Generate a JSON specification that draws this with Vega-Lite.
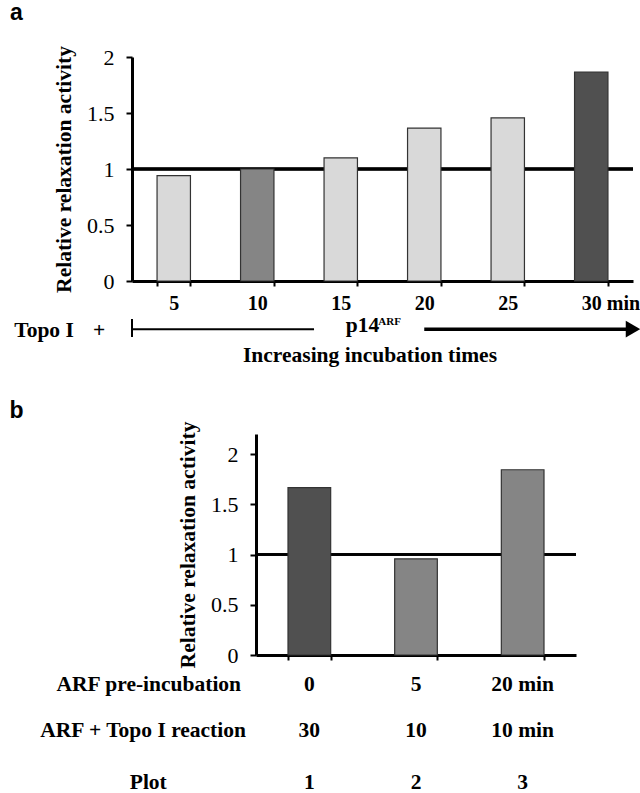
{
  "$schema": "https://vega.github.io/schema/vega-lite/v6.json",
  "padding": {"left": 9, "top": 2, "right": 0, "bottom": 0},
  "spacing": 153,
  "bounds": "flush",
  "config": {
    "font": "Liberation Serif",
    "view": {"stroke": null},
    "axis": {"domainColor": "black", "tickColor": "black", "labelColor": "black", "titleColor": "black", "grid": false, "domainWidth": 3, "tickWidth": 2}
  },
  "vconcat": [
    {
      "width": 501,
      "height": 224,
      "data": {"values": [
        {"time": "5", "activity": 0.94, "highlight": "none"},
        {"time": "10", "activity": 1.0, "highlight": "10 min"},
        {"time": "15", "activity": 1.10, "highlight": "none"},
        {"time": "20", "activity": 1.365, "highlight": "none"},
        {"time": "25", "activity": 1.457, "highlight": "none"},
        {"time": "30 min", "activity": 1.866, "highlight": "30 min"}
      ]},
      "layer": [
        {
          "layer": [
            {"mark": {"type": "rule", "color": "black", "strokeWidth": 2.5},
             "encoding": {"y": {"datum": 1, "type": "quantitative", "scale": {"domain": [0, 2], "nice": false}}}},
            {"mark": {"type": "bar", "stroke": "#333333", "strokeWidth": 1.2},
             "encoding": {
               "x": {"field": "time", "type": "nominal", "sort": null,
                     "scale": {"paddingInner": 0.6, "paddingOuter": 0.3},
                     "axis": {"title": null, "labelAngle": 0, "labelFontWeight": "bold", "labelFontSize": 20, "tickBand": "extent", "tickSize": 5, "labelPadding": 7,
                              "labelAlign": {"condition": {"test": "datum.label === '30 min'", "value": "left"}, "value": "center"},
                              "labelOffset": {"condition": {"test": "datum.label === '30 min'", "value": -10}, "value": 0}}},
               "y": {"field": "activity", "type": "quantitative", "scale": {"domain": [0, 2], "nice": false},
                     "axis": {"values": [0, 0.5, 1, 1.5, 2], "format": "~g", "title": "Relative relaxation activity", "titleFontSize": 21.5, "titleFontWeight": "bold", "titlePadding": 11, "labelFontSize": 22, "labelPadding": 12, "tickSize": 6}},
               "color": {"field": "highlight", "type": "nominal", "scale": {"domain": ["none", "10 min", "30 min"], "range": ["#d9d9d9", "#858585", "#505050"]}, "legend": null}
             }}
          ]
        },
        {
          "data": {"values": [{}]},
          "layer": [
            {"mark": {"type": "text", "font": "Liberation Sans", "fontWeight": "bold", "fontSize": 23, "align": "left", "baseline": "alphabetic"},
             "encoding": {"x": {"datum": -1.46, "type": "quantitative", "scale": {"domain": [0, 6], "nice": false}, "axis": null},
                          "y": {"datum": 2.33, "type": "quantitative", "scale": {"domain": [0, 2], "nice": false}},
                          "text": {"value": "a"}}},
            {"mark": {"type": "text", "fontWeight": "bold", "fontSize": 21.5, "align": "left", "baseline": "alphabetic"},
             "encoding": {"x": {"datum": -1.41, "type": "quantitative", "scale": {"domain": [0, 6], "nice": false}, "axis": null},
                          "y": {"datum": -0.5, "type": "quantitative", "scale": {"domain": [0, 2], "nice": false}},
                          "text": {"value": "Topo I"}}},
            {"mark": {"type": "text", "fontWeight": "bold", "fontSize": 21.5, "align": "left", "baseline": "alphabetic"},
             "encoding": {"x": {"datum": -0.467, "type": "quantitative", "scale": {"domain": [0, 6], "nice": false}, "axis": null},
                          "y": {"datum": -0.5, "type": "quantitative", "scale": {"domain": [0, 2], "nice": false}},
                          "text": {"value": "+"}}},
            {"mark": {"type": "rule", "color": "black", "strokeWidth": 2},
             "encoding": {"x": {"datum": 0, "type": "quantitative", "scale": {"domain": [0, 6], "nice": false}, "axis": null},
                          "y": {"datum": -0.34, "type": "quantitative", "scale": {"domain": [0, 2], "nice": false}},
                          "y2": {"datum": -0.5}}},
            {"mark": {"type": "rule", "color": "black", "strokeWidth": 2},
             "encoding": {"x": {"datum": 0, "type": "quantitative", "scale": {"domain": [0, 6], "nice": false}, "axis": null},
                          "x2": {"datum": 2.18},
                          "y": {"datum": -0.43, "type": "quantitative", "scale": {"domain": [0, 2], "nice": false}}}},
            {"mark": {"type": "text", "fontWeight": "bold", "fontSize": 21.5, "align": "left", "baseline": "alphabetic"},
             "encoding": {"x": {"datum": 2.56, "type": "quantitative", "scale": {"domain": [0, 6], "nice": false}, "axis": null},
                          "y": {"datum": -0.455, "type": "quantitative", "scale": {"domain": [0, 2], "nice": false}},
                          "text": {"value": "p14"}}},
            {"mark": {"type": "text", "fontWeight": "bold", "fontSize": 11, "align": "left", "baseline": "alphabetic"},
             "encoding": {"x": {"datum": 2.95, "type": "quantitative", "scale": {"domain": [0, 6], "nice": false}, "axis": null},
                          "y": {"datum": -0.393, "type": "quantitative", "scale": {"domain": [0, 2], "nice": false}},
                          "text": {"value": "ARF"}}},
            {"mark": {"type": "rule", "color": "black", "strokeWidth": 3.5},
             "encoding": {"x": {"datum": 3.5, "type": "quantitative", "scale": {"domain": [0, 6], "nice": false}, "axis": null},
                          "x2": {"datum": 5.93},
                          "y": {"datum": -0.43, "type": "quantitative", "scale": {"domain": [0, 2], "nice": false}}}},
            {"mark": {"type": "point", "shape": "triangle-right", "filled": true, "color": "black", "opacity": 1, "size": 280},
             "encoding": {"x": {"datum": 6.0, "type": "quantitative", "scale": {"domain": [0, 6], "nice": false}, "axis": null},
                          "y": {"datum": -0.43, "type": "quantitative", "scale": {"domain": [0, 2], "nice": false}}}},
            {"mark": {"type": "text", "fontWeight": "bold", "fontSize": 21.5, "align": "center", "baseline": "alphabetic"},
             "encoding": {"x": {"datum": 2.85, "type": "quantitative", "scale": {"domain": [0, 6], "nice": false}, "axis": null},
                          "y": {"datum": -0.723, "type": "quantitative", "scale": {"domain": [0, 2], "nice": false}},
                          "text": {"value": "Increasing incubation times"}}}
          ]
        }
      ],
      "resolve": {"scale": {"x": "independent"}}
    },
    {
      "bounds": "flush",
      "spacing": 0,
      "hconcat": [
        {
          "width": 124,
          "height": 10,
          "data": {"values": [{}]},
          "mark": {"type": "text"},
          "encoding": {"text": {"value": ""}}
        },
        {
          "width": 320,
          "height": 221,
          "data": {"values": [
            {"pre": "0", "reaction": "30", "plot": "1", "activity": 1.667, "highlight": "30 min"},
            {"pre": "5", "reaction": "10", "plot": "2", "activity": 0.957, "highlight": "10 min"},
            {"pre": "20 min", "reaction": "10 min", "plot": "3", "activity": 1.844, "highlight": "10 min"}
          ]},
          "layer": [
            {
              "layer": [
                {"mark": {"type": "rule", "color": "black", "strokeWidth": 2.5},
                 "encoding": {"y": {"datum": 1, "type": "quantitative", "scale": {"domain": [0, 2.2], "nice": false}}}},
                {"mark": {"type": "bar", "stroke": "#333333", "strokeWidth": 1.2},
                 "encoding": {
                   "x": {"field": "pre", "type": "nominal", "sort": null,
                         "scale": {"paddingInner": 0.6, "paddingOuter": 0.3},
                         "axis": {"title": null, "labels": false, "tickBand": "extent", "tickSize": 5}},
                   "y": {"field": "activity", "type": "quantitative", "scale": {"domain": [0, 2.2], "nice": false},
                         "axis": {"values": [0, 0.5, 1, 1.5, 2], "format": "~g", "title": "Relative relaxation activity", "titleFontSize": 21.5, "titleFontWeight": "bold", "titlePadding": 11, "labelFontSize": 22, "labelPadding": 12, "tickSize": 6}},
                   "color": {"field": "highlight", "type": "nominal", "scale": {"domain": ["none", "10 min", "30 min"], "range": ["#d9d9d9", "#868686", "#505050"]}, "legend": null}
                 }},
                {"mark": {"type": "text", "fontWeight": "bold", "fontSize": 21.5, "baseline": "alphabetic"},
                 "encoding": {"x": {"field": "pre", "type": "nominal", "sort": null},
                              "y": {"datum": -0.358, "type": "quantitative", "scale": {"domain": [0, 2.2], "nice": false}},
                              "text": {"field": "pre"}}},
                {"mark": {"type": "text", "fontWeight": "bold", "fontSize": 21.5, "baseline": "alphabetic"},
                 "encoding": {"x": {"field": "pre", "type": "nominal", "sort": null},
                              "y": {"datum": -0.816, "type": "quantitative", "scale": {"domain": [0, 2.2], "nice": false}},
                              "text": {"field": "reaction"}}},
                {"mark": {"type": "text", "fontWeight": "bold", "fontSize": 21.5, "baseline": "alphabetic"},
                 "encoding": {"x": {"field": "pre", "type": "nominal", "sort": null},
                              "y": {"datum": -1.33, "type": "quantitative", "scale": {"domain": [0, 2.2], "nice": false}},
                              "text": {"field": "plot"}}}
              ]
            },
            {
              "data": {"values": [{}]},
              "layer": [
                {"mark": {"type": "text", "font": "Liberation Sans", "fontWeight": "bold", "fontSize": 23, "align": "left", "baseline": "alphabetic"},
                 "encoding": {"x": {"datum": -2.31, "type": "quantitative", "scale": {"domain": [0, 3], "nice": false}, "axis": null},
                              "y": {"datum": 2.36, "type": "quantitative", "scale": {"domain": [0, 2.2], "nice": false}},
                              "text": {"value": "b"}}},
                {"mark": {"type": "text", "fontWeight": "bold", "fontSize": 21.5, "align": "right", "baseline": "alphabetic"},
                 "encoding": {"x": {"datum": -0.14, "type": "quantitative", "scale": {"domain": [0, 3], "nice": false}, "axis": null},
                              "y": {"datum": -0.358, "type": "quantitative", "scale": {"domain": [0, 2.2], "nice": false}},
                              "text": {"value": "ARF pre-incubation"}}},
                {"mark": {"type": "text", "fontWeight": "bold", "fontSize": 21.5, "align": "right", "baseline": "alphabetic"},
                 "encoding": {"x": {"datum": -0.094, "type": "quantitative", "scale": {"domain": [0, 3], "nice": false}, "axis": null},
                              "y": {"datum": -0.816, "type": "quantitative", "scale": {"domain": [0, 2.2], "nice": false}},
                              "text": {"value": "ARF + Topo I reaction"}}},
                {"mark": {"type": "text", "fontWeight": "bold", "fontSize": 21.5, "align": "center", "baseline": "alphabetic"},
                 "encoding": {"x": {"datum": -1.01, "type": "quantitative", "scale": {"domain": [0, 3], "nice": false}, "axis": null},
                              "y": {"datum": -1.33, "type": "quantitative", "scale": {"domain": [0, 2.2], "nice": false}},
                              "text": {"value": "Plot"}}}
              ]
            }
          ],
          "resolve": {"scale": {"x": "independent"}}
        }
      ]
    }
  ]
}
